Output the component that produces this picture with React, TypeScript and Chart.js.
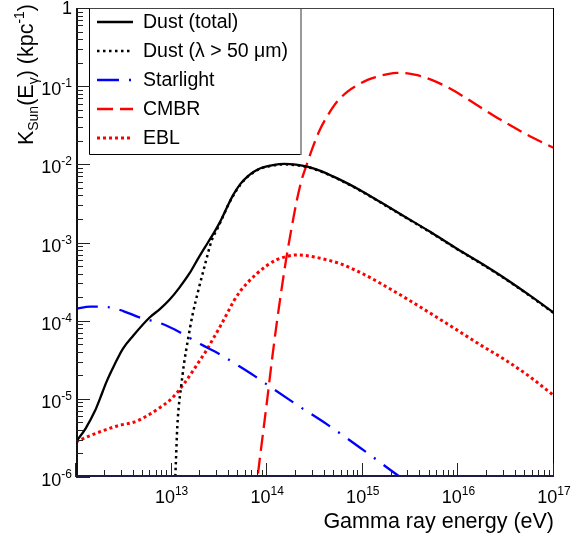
import React, { useEffect, useRef } from 'react';
import { Chart, registerables } from 'chart.js';

Chart.register(...registerables);

// ---- Data (log10 of gamma-ray energy in eV, log10 of K_Sun in kpc^-1) ----
const dustTotalLogE = [12.00, 12.10, 12.20, 12.25, 12.32, 12.40, 12.49, 12.60, 12.77, 12.88, 12.98, 13.08, 13.19, 13.28, 13.38, 13.45, 13.51, 13.58, 13.64, 13.72, 13.79, 13.86, 13.93, 14.06, 14.18, 14.30, 14.42, 14.55, 14.70, 14.85, 15.00, 15.18, 15.44, 15.70, 15.96, 16.23, 16.50, 16.75, 17.00];
const dustTotalLogK = [-5.55, -5.38, -5.15, -5.00, -4.78, -4.57, -4.36, -4.19, -3.96, -3.85, -3.73, -3.58, -3.39, -3.20, -3.00, -2.86, -2.73, -2.55, -2.40, -2.25, -2.16, -2.095, -2.05, -2.01, -1.995, -2.005, -2.03, -2.08, -2.16, -2.25, -2.35, -2.48, -2.67, -2.86, -3.06, -3.26, -3.47, -3.68, -3.90];

const dustColdLogE = [13.03, 13.045, 13.06, 13.075, 13.10, 13.13, 13.17, 13.22, 13.28, 13.35, 13.42, 13.48, 13.54, 13.60, 13.66, 13.72, 13.79, 13.86, 13.93, 14.06, 14.18, 14.30, 14.42, 14.55, 14.70, 14.85, 15.00, 15.18, 15.44, 15.70, 15.96, 16.23, 16.50, 16.75, 17.00];
const dustColdLogK = [-6.3, -5.8, -5.35, -5.10, -4.84, -4.55, -4.25, -3.92, -3.61, -3.28, -2.97, -2.82, -2.66, -2.50, -2.37, -2.26, -2.165, -2.10, -2.055, -2.015, -2.0, -2.01, -2.035, -2.085, -2.165, -2.255, -2.355, -2.485, -2.675, -2.865, -3.065, -3.265, -3.475, -3.685, -3.905];

const starlightLogE = [12.00, 12.15, 12.36, 12.50, 12.67, 12.90, 13.09, 13.30, 13.49, 13.69, 13.87, 14.06, 14.34, 14.63, 15.00, 15.39, 15.60];
const starlightLogK = [-3.85, -3.82, -3.83, -3.88, -3.96, -4.04, -4.15, -4.30, -4.42, -4.57, -4.71, -4.87, -5.10, -5.33, -5.65, -6.00, -6.18];

const cmbrLogE = [13.88, 13.90, 13.95, 14.00, 14.05, 14.10, 14.15, 14.20, 14.26, 14.31, 14.36, 14.42, 14.48, 14.55, 14.64, 14.73, 14.84, 14.94, 15.05, 15.15, 15.26, 15.36, 15.47, 15.57, 15.72, 15.88, 16.05, 16.23, 16.40, 16.57, 16.78, 17.00];
const cmbrLogK = [-6.25, -6.00, -5.50, -5.01, -4.50, -4.03, -3.60, -3.20, -2.78, -2.46, -2.20, -1.98, -1.77, -1.56, -1.36, -1.20, -1.07, -0.99, -0.92, -0.88, -0.845, -0.83, -0.835, -0.86, -0.92, -1.01, -1.13, -1.27, -1.40, -1.52, -1.66, -1.79];

const eblLogE = [12.00, 12.15, 12.30, 12.45, 12.60, 12.74, 12.88, 12.98, 13.05, 13.14, 13.23, 13.30, 13.37, 13.44, 13.51, 13.58, 13.65, 13.72, 13.79, 13.89, 13.99, 14.10, 14.20, 14.30, 14.42, 14.55, 14.76, 15.00, 15.21, 15.46, 15.70, 15.96, 16.23, 16.50, 16.75, 17.00];
const eblLogK = [-5.55, -5.47, -5.40, -5.34, -5.30, -5.22, -5.11, -5.02, -4.93, -4.79, -4.63, -4.50, -4.37, -4.22, -4.07, -3.91, -3.75, -3.62, -3.52, -3.40, -3.30, -3.22, -3.18, -3.16, -3.17, -3.20, -3.27, -3.40, -3.54, -3.72, -3.90, -4.10, -4.31, -4.51, -4.72, -4.96];

const seriesLabels = ['Dust (total)', 'Dust (\u03BB > 50 \u03BCm)', 'Starlight', 'CMBR', 'EBL'];
const xTickExponents = [13, 14, 15, 16, 17];
const yTickExponents = [0, -1, -2, -3, -4, -5, -6];
const xRange = [1e12, 1e17];
const yRange = [1e-6, 1];
const xTitle = 'Gamma ray energy (eV)';

const FONT = '"Liberation Sans", Arial, Helvetica, sans-serif';

const toPoints = (le: number[], lk: number[]) => le.map((e, i) => ({ x: Math.pow(10, e), y: Math.pow(10, lk[i]) }));

function drawPow(ctx: CanvasRenderingContext2D, base: string, exp: string, x: number, y: number, align: string, bs: number, ss: number, rise: number) {
  ctx.font = `${bs}px ${FONT}`;
  const wb = ctx.measureText(base).width;
  ctx.font = `${ss}px ${FONT}`;
  const we = exp ? ctx.measureText(exp).width : 0;
  const total = wb + we;
  const x0 = align === 'center' ? x - total / 2 : align === 'right' ? x - total : x;
  ctx.textAlign = 'left';
  ctx.textBaseline = 'alphabetic';
  ctx.font = `${bs}px ${FONT}`;
  ctx.fillText(base, x0, y);
  if (exp) {
    ctx.font = `${ss}px ${FONT}`;
    ctx.fillText(exp, x0 + wb, y - rise);
  }
}

const decorPlugin = {
  id: 'rootDecor',
  beforeDraw(chart: any) {
    const ctx = chart.ctx;
    ctx.save();
    ctx.fillStyle = '#fff';
    ctx.fillRect(0, 0, chart.width, chart.height);
    ctx.restore();
  },
  afterDraw(chart: any) {
    const ctx: CanvasRenderingContext2D = chart.ctx;
    const a = chart.chartArea;
    const xs = chart.scales.x;
    const ys = chart.scales.y;
    ctx.save();

    // legend box
    const lx0 = 89, ly0 = 8, lx1 = 301, ly1 = 154;
    ctx.fillStyle = '#fff';
    ctx.fillRect(lx0, ly0, lx1 - lx0, ly1 - ly0);
    ctx.strokeStyle = '#000';
    ctx.lineWidth = 1;
    ctx.beginPath();
    ctx.moveTo(lx0 + 0.5, ly0);
    ctx.lineTo(lx0 + 0.5, ly1 + 0.5);
    ctx.lineTo(lx1, ly1 + 0.5);
    ctx.stroke();
    ctx.strokeStyle = '#777';
    ctx.lineWidth = 1.5;
    ctx.beginPath();
    ctx.moveTo(lx1, ly0);
    ctx.lineTo(lx1, ly1 + 1);
    ctx.stroke();

    chart.data.datasets.forEach((ds: any, i: number) => {
      const cy = 22 + i * 29;
      ctx.save();
      ctx.beginPath();
      ctx.rect(97, cy - 5, 36, 10);
      ctx.clip();
      ctx.strokeStyle = ds.borderColor;
      ctx.lineWidth = ds.borderWidth;
      ctx.setLineDash(ds.borderDash || []);
      ctx.lineCap = 'butt';
      ctx.beginPath();
      ctx.moveTo(97, cy);
      ctx.lineTo(133, cy);
      ctx.stroke();
      ctx.restore();
      ctx.fillStyle = '#000';
      ctx.font = `19.5px ${FONT}`;
      ctx.textAlign = 'left';
      ctx.textBaseline = 'middle';
      ctx.fillText(ds.label, 143, cy + 1);
    });

    // frame
    ctx.setLineDash([]);
    ctx.strokeStyle = '#444';
    ctx.lineWidth = 1;
    ctx.beginPath();
    ctx.moveTo(a.left, a.top + 0.5);
    ctx.lineTo(a.right, a.top + 0.5);
    ctx.stroke();
    ctx.strokeStyle = '#000';
    ctx.beginPath();
    ctx.moveTo(a.right - 0.5, a.top);
    ctx.lineTo(a.right - 0.5, a.bottom);
    ctx.stroke();
    ctx.lineWidth = 2;
    ctx.strokeStyle = '#111';
    ctx.beginPath();
    ctx.moveTo(a.left + 1, a.top);
    ctx.lineTo(a.left + 1, a.bottom);
    ctx.stroke();
    ctx.strokeStyle = '#1c1c44';
    ctx.beginPath();
    ctx.moveTo(a.left, a.bottom - 1);
    ctx.lineTo(a.right, a.bottom - 1);
    ctx.stroke();

    // ticks
    ctx.strokeStyle = '#222';
    ctx.lineWidth = 1;
    ctx.beginPath();
    for (let d = 12; d <= 17; d++) {
      for (let k = 1; k <= 9; k++) {
        const v = k * Math.pow(10, d);
        if (v < xRange[0] || v > xRange[1] * 1.0001) continue;
        const px = Math.round(xs.getPixelForValue(v)) - 0.5;
        const len = k === 1 ? 14 : 7;
        ctx.moveTo(px, a.bottom);
        ctx.lineTo(px, a.bottom - len);
        if (k === 1 && d === 17) break;
      }
    }
    for (let d = -6; d <= 0; d++) {
      for (let k = 1; k <= 9; k++) {
        const v = k * Math.pow(10, d);
        if (v > yRange[1] * 1.0001) continue;
        const py = Math.round(ys.getPixelForValue(v)) + 0.5;
        const len = k === 1 ? 14 : 7;
        ctx.moveTo(a.left, py);
        ctx.lineTo(a.left + len, py);
        if (d === 0) break;
      }
    }
    ctx.stroke();

    // tick labels
    ctx.fillStyle = '#000';
    xTickExponents.forEach((e) => {
      const px = xs.getPixelForValue(Math.pow(10, e));
      drawPow(ctx, '10', String(e), px, 503, 'center', 18, 12, 8);
    });
    yTickExponents.forEach((e) => {
      const py = ys.getPixelForValue(Math.pow(10, e));
      if (e === 0) drawPow(ctx, '1', '', 72, py + 6, 'right', 18, 12, 8);
      else drawPow(ctx, '10', '-' + String(-e), 72, py + 9, 'right', 18, 12, 8);
    });

    // x title
    ctx.font = `21.5px ${FONT}`;
    ctx.textAlign = 'right';
    ctx.textBaseline = 'alphabetic';
    ctx.fillText(xTitle, a.right, 528);

    // y title (rotated)
    const segs = [
      { t: 'K', s: 21.5, dy: 0 },
      { t: 'Sun', s: 14, dy: 5 },
      { t: '(E', s: 21.5, dy: 0 },
      { t: '\u03B3', s: 14, dy: 5 },
      { t: ') (kpc', s: 21.5, dy: 0 },
      { t: '-1', s: 14, dy: -9 },
      { t: ')', s: 21.5, dy: 0 },
    ];
    let total = 0;
    segs.forEach((sg) => {
      ctx.font = `${sg.s}px ${FONT}`;
      total += ctx.measureText(sg.t).width;
    });
    ctx.translate(33, 4 + total);
    ctx.rotate(-Math.PI / 2);
    ctx.textAlign = 'left';
    let cx = 0;
    segs.forEach((sg) => {
      ctx.font = `${sg.s}px ${FONT}`;
      ctx.fillText(sg.t, cx, sg.dy);
      cx += ctx.measureText(sg.t).width;
    });

    ctx.restore();
  },
};

export default function App() {
  const ref = useRef<HTMLCanvasElement | null>(null);
  useEffect(() => {
    if (!ref.current) return;
    const common = { pointRadius: 0, fill: false, clip: 0, cubicInterpolationMode: 'monotone' as const, borderCapStyle: 'butt' as const };
    const chart = new Chart(ref.current, {
      type: 'line',
      data: {
        datasets: [
          { ...common, label: seriesLabels[0], data: toPoints(dustTotalLogE, dustTotalLogK), borderColor: '#000000', borderWidth: 2.3, borderDash: [] },
          { ...common, label: seriesLabels[1], data: toPoints(dustColdLogE, dustColdLogK), borderColor: '#000000', borderWidth: 2.5, borderDash: [2.5, 3.5] },
          { ...common, label: seriesLabels[2], data: toPoints(starlightLogE, starlightLogK), borderColor: '#0000ff', borderWidth: 2.3, borderDash: [22, 10, 2, 10] },
          { ...common, label: seriesLabels[3], data: toPoints(cmbrLogE, cmbrLogK), borderColor: '#ff0000', borderWidth: 2.3, borderDash: [16, 7] },
          { ...common, label: seriesLabels[4], data: toPoints(eblLogE, eblLogK), borderColor: '#ff0000', borderWidth: 3, borderDash: [3, 3] },
        ],
      },
      options: {
        responsive: false,
        animation: false,
        devicePixelRatio: 1,
        layout: { padding: { left: 76, right: 24, top: 8, bottom: 56 } },
        plugins: { legend: { display: false }, tooltip: { enabled: false }, title: { display: false } },
        scales: {
          x: { type: 'logarithmic', min: xRange[0], max: xRange[1], display: false },
          y: { type: 'logarithmic', min: yRange[0], max: yRange[1], display: false },
        },
      },
      plugins: [decorPlugin],
    });
    return () => chart.destroy();
  }, []);
  return (
    <div style={{ position: 'absolute', left: 0, top: 0, width: 578, height: 533 }}>
      <canvas ref={ref} width={578} height={533} style={{ display: 'block' }} />
    </div>
  );
}
